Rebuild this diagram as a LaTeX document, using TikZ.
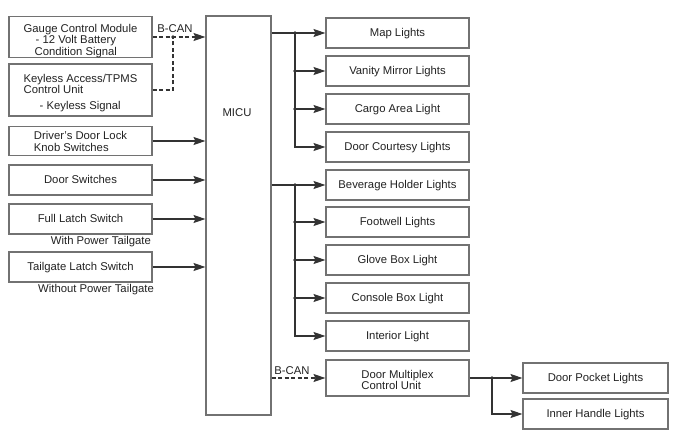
\documentclass[tikz,border=0pt]{standalone}
\usepackage{fontspec}
\setmainfont{Liberation Sans}
\usetikzlibrary{arrows.meta}
\definecolor{boxc}{HTML}{727272}
\definecolor{linec}{HTML}{333333}
\definecolor{txtc}{HTML}{222222}
\begin{document}
\begin{tikzpicture}[x=1pt,y=-1pt,
  every node/.style={font=\fontsize{11.3}{11.5}\selectfont, text=txtc},
  box/.style={draw=boxc, line width=1.1pt, fill=white, minimum width=143pt, minimum height=30pt, inner sep=0pt, align=center},
  onebox/.style={box, text height=8pt, text depth=0.5pt},
  wire/.style={draw=linec, line width=1.2pt},
  arr/.style={wire, -{Stealth[length=12pt,width=8pt,inset=2pt]}},
  darr/.style={arr, dashed, dash pattern=on 4pt off 2.5pt},
  dwire/.style={wire, dashed, dash pattern=on 4pt off 2.5pt},
  dot/.style={circle, fill=linec, inner sep=0pt, minimum size=3.6pt},
  note/.style={inner sep=0pt}]
\useasboundingbox (0,0) rectangle (680,436);
\fill[white] (0,0) rectangle (680,436);

% left boxes
\node[box, minimum height=40pt, align=left] (gauge) at (80.5,37) {\rule{0pt}{16pt}Gauge Control Module\\\hspace*{12pt}- 12 Volt Battery\\\hspace*{11pt}Condition Signal};
\node[box, minimum height=52pt, align=left] (keyless) at (80.5,90) {\rule{0pt}{14pt}Keyless Access/TPMS\\Control Unit\\[4pt]\hspace*{16pt}- Keyless Signal};
\node[box, minimum height=29pt, align=left] (driver) at (80.5,141) {\rule{0pt}{9.5pt}Driver's Door Lock\\Knob Switches};
\node[onebox] (doorsw) at (80.5,180) {Door Switches};
\node[onebox] (full) at (80.5,219) {Full Latch Switch};
\node[onebox] (tail) at (80.5,267) {Tailgate Latch Switch};
\node[note, anchor=east] (withpt) at (151,242) {With Power Tailgate};
\node[note, anchor=east] (withoutpt) at (154,290) {Without Power Tailgate};

% MICU
\node[box, minimum width=65pt, minimum height=399pt] (micu) at (238.5,215.5) {};
\node[note] (micul) at (237,113) {MICU};

% right boxes
\node[onebox] (map) at (397.5,33) {Map Lights};
\node[onebox] (vanity) at (397.5,71) {Vanity Mirror Lights};
\node[onebox] (cargo) at (397.5,109) {Cargo Area Light};
\node[onebox] (court) at (397.5,147) {Door Courtesy Lights};
\node[onebox] (bev) at (397.5,185) {Beverage Holder Lights};
\node[onebox] (foot) at (397.5,222) {Footwell Lights};
\node[onebox] (glove) at (397.5,260) {Glove Box Light};
\node[onebox] (console) at (397.5,298) {Console Box Light};
\node[onebox] (interior) at (397.5,336) {Interior Light};
\node[box, minimum height=36pt, align=left] (dmcu) at (397.5,378) {\rule{0pt}{12pt}Door Multiplex\\Control Unit};
\node[onebox, minimum width=145pt] (pocket) at (595.5,378) {Door Pocket Lights};
\node[onebox, minimum width=145pt] (inner) at (595.5,414) {Inner Handle Lights};

% B-CAN inputs
\coordinate (j1) at (173,37);
\draw[darr] (gauge.east) -- (micu.west |- gauge.east);
\draw[dwire] (keyless.east) -| (j1);
\node[dot] (d0) at (j1) {};
\node[note] (bcan1) at (175,29) {B-CAN};

% wired inputs
\draw[arr] (driver.east) -- (micu.west |- driver.east);
\draw[arr] (doorsw.east) -- (micu.west |- doorsw.east);
\draw[arr] (full.east) -- (micu.west |- full.east);
\draw[arr] (tail.east) -- (micu.west |- tail.east);

% outputs group 1
\coordinate (b1) at (295,33);
\draw[arr] (micu.east |- map.west) -- (map.west);
\draw[arr] (b1) |- (court.west);
\draw[arr] (b1 |- vanity.west) -- (vanity.west);
\draw[arr] (b1 |- cargo.west) -- (cargo.west);
\node[dot] at (b1) {};
\node[dot] at (b1 |- vanity.west) {};
\node[dot] at (b1 |- cargo.west) {};

% outputs group 2
\coordinate (b2) at (295,185);
\draw[arr] (micu.east |- bev.west) -- (bev.west);
\draw[arr] (b2) |- (interior.west);
\draw[arr] (b2 |- foot.west) -- (foot.west);
\draw[arr] (b2 |- glove.west) -- (glove.west);
\draw[arr] (b2 |- console.west) -- (console.west);
\node[dot] at (b2) {};
\node[dot] at (b2 |- foot.west) {};
\node[dot] at (b2 |- glove.west) {};
\node[dot] at (b2 |- console.west) {};

% door multiplex
\draw[darr] (micu.east |- dmcu.west) -- (dmcu.west);
\node[note] (bcan2) at (292,371) {B-CAN};
\coordinate (b3) at (492,378);
\draw[arr] (dmcu.east) -- (pocket.west);
\draw[arr] (b3) |- (inner.west);
\node[dot] at (b3) {};
\end{tikzpicture}
\end{document}
